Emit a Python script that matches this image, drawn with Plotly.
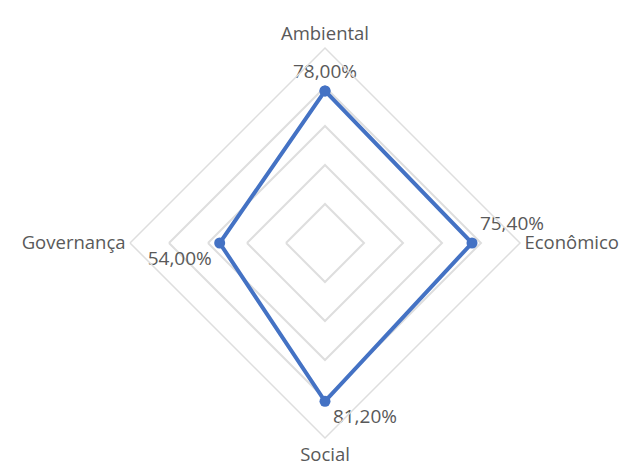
import plotly.graph_objects as go

categories = ["Ambiental", "Econômico", "Social", "Governança"]
values = [78.0, 75.4, 81.2, 54.0]
label_positions = ["top center", "top right", "bottom right", "bottom left"]

labels = [f"{v:.2f}".replace(".", ",") + "%" for v in values]

W, H = 631, 466
cx, cy, R = 325, 243, 195

fig = go.Figure()
fig.add_trace(go.Scatterpolar(
    r=values + [values[0]],
    theta=categories + [categories[0]],
    mode="lines+markers+text",
    text=labels + [""],
    textposition=label_positions + ["top center"],
    textfont=dict(family="Open Sans", size=19, color="#595959"),
    line=dict(color="#4472C4", width=4),
    marker=dict(color="#4472C4", size=11),
    cliponaxis=False,
    hoverinfo="skip",
))

fig.update_layout(
    width=W, height=H,
    margin=dict(l=0, r=0, t=0, b=0),
    paper_bgcolor="white",
    showlegend=False,
    font=dict(family="Open Sans", size=18.5, color="#595959"),
    polar=dict(
        domain=dict(x=[(cx - R) / W, (cx + R) / W],
                    y=[(H - cy - R) / H, (H - cy + R) / H]),
        bgcolor="white",
        gridshape="linear",
        radialaxis=dict(range=[0, 100], dtick=20, showticklabels=False, ticks="",
                        showline=False, gridcolor="#dedede", gridwidth=1.5),
        angularaxis=dict(rotation=90, direction="clockwise", showgrid=False,
                         showline=True, linecolor="#dedede", linewidth=1.5, ticks="",
                         tickfont=dict(family="Open Sans", size=18.5, color="#595959")),
    ),
)

fig.write_html("out.html",
               config={"displayModeBar": False},
               post_script="document.body.style.margin='0';document.body.style.overflow='hidden';")
